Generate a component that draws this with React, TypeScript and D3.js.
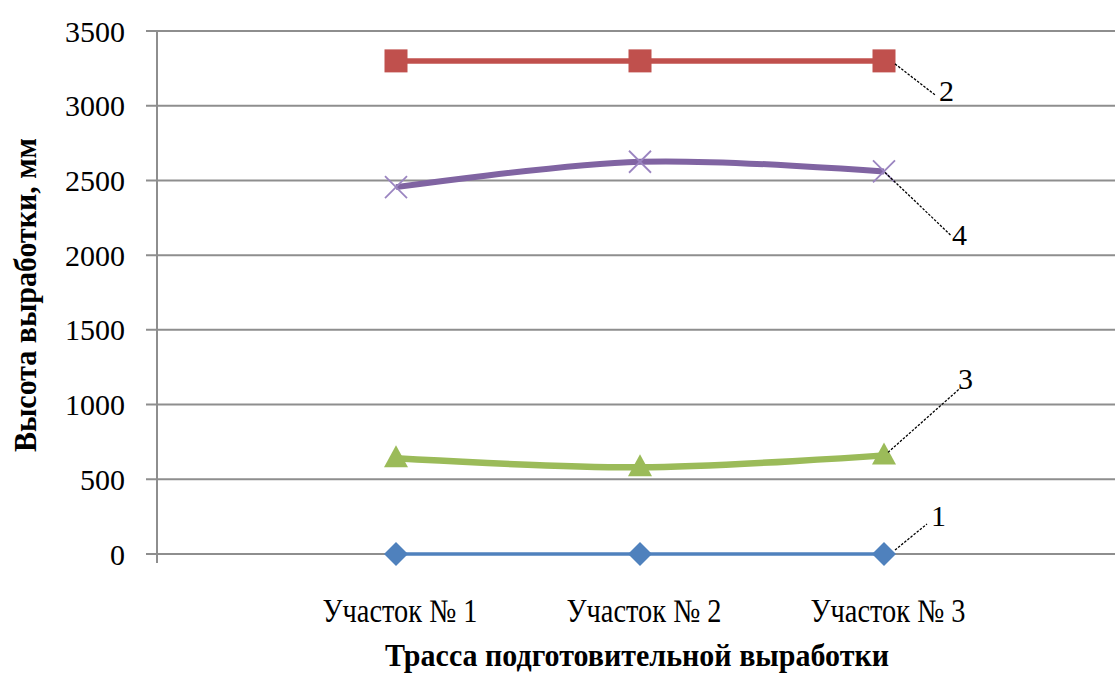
import React from "react";
import * as d3 from "d3";

const categories = ["Участок № 1", "Участок № 2", "Участок № 3"];
const yTicks = [0, 500, 1000, 1500, 2000, 2500, 3000, 3500];
const series1 = [0, 0, 0];
const series2 = [3300, 3300, 3300];
const series3 = [640, 580, 660];
const series4 = [2455, 2625, 2560];

const W = 1115;
const H = 675;

type Series = {
  name: string;
  values: number[];
  color: string;
  width: number;
  smooth: boolean;
  marker: "diamond" | "square" | "triangle" | "x";
  lead: [number, number, number, number];
  text: [number, number];
};

const seriesList: Series[] = [
  { name: "1", values: series1, color: "#4F81BD", width: 3.5, smooth: false, marker: "diamond", lead: [11, -4, 43, -30], text: [47, -28] },
  { name: "2", values: series2, color: "#C0504D", width: 5.5, smooth: false, marker: "square", lead: [11, 3, 51, 34], text: [55, 40] },
  { name: "3", values: series3, color: "#9BBB59", width: 6.5, smooth: true, marker: "triangle", lead: [4, -3, 76, -67], text: [74, -66] },
  { name: "4", values: series4, color: "#8064A2", width: 6, smooth: true, marker: "x", lead: [1, 1, 67, 64], text: [68, 74] },
];

function Marker({ kind, x, y, color }: { kind: string; x: number; y: number; color: string }) {
  if (kind === "diamond") {
    const r = 12;
    return <path d={`M${x},${y - r}L${x + r},${y}L${x},${y + r}L${x - r},${y}Z`} fill={color} />;
  }
  if (kind === "square") {
    const r = 11.5;
    return <rect x={x - r} y={y - r} width={2 * r} height={2 * r} fill={color} />;
  }
  if (kind === "triangle") {
    return <path d={`M${x},${y - 13}L${x + 12},${y + 9}L${x - 12},${y + 9}Z`} fill={color} />;
  }
  const r = 11;
  return (
    <g stroke="#9A84C0" strokeWidth={1.8}>
      <line x1={x - r} y1={y - r} x2={x + r} y2={y + r} />
      <line x1={x - r} y1={y + r} x2={x + r} y2={y - r} />
    </g>
  );
}

export default function App() {
  const plotLeft = 157;
  const x = d3.scalePoint<string>().domain(categories).range([396, 884]);
  const y = d3.scaleLinear().domain([0, 3500]).range([554, 31]);

  const serif = "'Liberation Serif', 'Times New Roman', serif";

  return (
    <svg width={W} height={H} style={{ position: "absolute", left: 0, top: 0, background: "#fff" }}>
      <rect width={W} height={H} fill="#fff" />
      {/* gridlines */}
      {yTicks.map((t) => (
        <g key={t}>
          <line x1={146} x2={W} y1={y(t)} y2={y(t)} stroke="#8E8E8E" strokeWidth={2} />
          <text
            x={125}
            y={y(t)}
            dy="0.35em"
            textAnchor="end"
            fontFamily={serif}
            fontSize={30}
            fill="#000"
          >
            {t}
          </text>
        </g>
      ))}
      {/* y axis */}
      <line x1={plotLeft} x2={plotLeft} y1={y(3500)} y2={563} stroke="#8E8E8E" strokeWidth={2} />

      {/* series */}
      {seriesList.map((s) => {
        const line = d3
          .line<number>()
          .x((_, i) => x(categories[i]) as number)
          .y((d) => y(d))
          .curve(s.smooth ? d3.curveCatmullRom.alpha(0.5) : d3.curveLinear);
        return (
          <g key={s.name}>
            <path d={line(s.values) || ""} fill="none" stroke={s.color} strokeWidth={s.width} strokeLinejoin="round" />
            {s.values.map((v, i) => (
              <Marker key={i} kind={s.marker} x={x(categories[i]) as number} y={y(v)} color={s.color} />
            ))}
          </g>
        );
      })}

      {/* annotations */}
      {seriesList.map((s) => {
        const last = s.values.length - 1;
        const px = x(categories[last]) as number;
        const py = y(s.values[last]);
        return (
          <g key={"a" + s.name}>
            <line
              x1={px + s.lead[0]}
              y1={py + s.lead[1]}
              x2={px + s.lead[2]}
              y2={py + s.lead[3]}
              stroke="#000"
              strokeWidth={1.3}
              strokeDasharray="2.5,1.5"
            />
            <text x={px + s.text[0]} y={py + s.text[1]} fontFamily={serif} fontSize={30} fill="#000">
              {s.name}
            </text>
          </g>
        );
      })}

      {/* category labels */}
      {categories.map((c) => (
        <text
          key={c}
          x={(x(c) as number) + 4}
          y={622}
          textAnchor="middle"
          fontFamily={serif}
          fontSize={33}
          textLength={155}
          lengthAdjust="spacingAndGlyphs"
          fill="#000"
        >
          {c}
        </text>
      ))}

      {/* axis titles */}
      <text
        x={637}
        y={666}
        textAnchor="middle"
        fontFamily={serif}
        fontWeight="bold"
        fontSize={32}
        textLength={504}
        lengthAdjust="spacingAndGlyphs"
        fill="#000"
      >
        Трасса подготовительной выработки
      </text>
      <text
        transform="translate(36,295) rotate(-90)"
        textAnchor="middle"
        fontFamily={serif}
        fontWeight="bold"
        fontSize={32}
        textLength={314}
        lengthAdjust="spacingAndGlyphs"
        fill="#000"
      >
        Высота выработки, мм
      </text>
    </svg>
  );
}
